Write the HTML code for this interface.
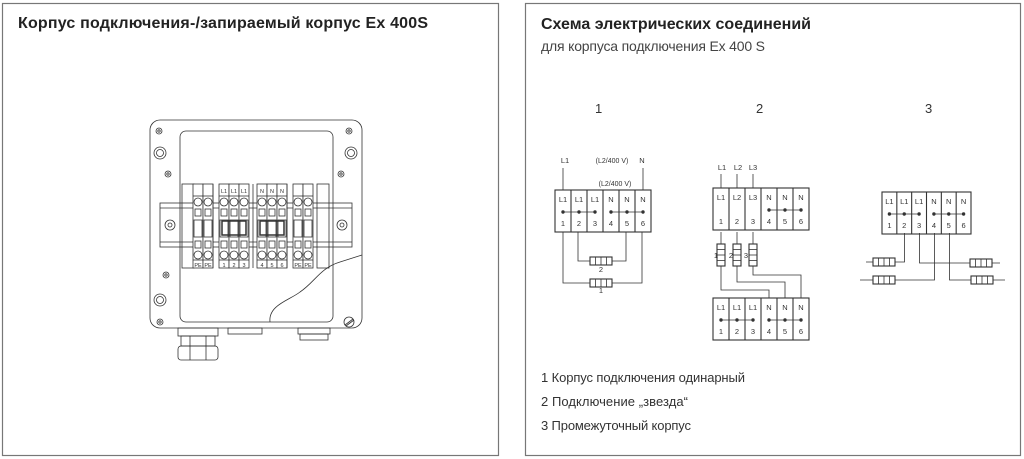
<!DOCTYPE html>
<html><head><meta charset="utf-8"><style>
html,body{margin:0;padding:0;background:#fff;width:1024px;height:459px;overflow:hidden}
svg{display:block}
.t{font-family:"Liberation Sans Narrow","Liberation Sans",sans-serif}
</style></head><body>
<svg id="s" width="1024" height="459" viewBox="0 0 1024 459" xmlns="http://www.w3.org/2000/svg">
<rect x="2.5" y="3.5" width="496" height="452" fill="none" stroke="#777" stroke-width="1.2"/>
<rect x="525.5" y="3.5" width="495" height="452" fill="none" stroke="#777" stroke-width="1.2"/>
<text class="t" x="18" y="28" font-size="16" font-weight="bold" fill="#222" textLength="410">Корпус подключения-/запираемый корпус Ex 400S</text>
<text class="t" x="541" y="29" font-size="16" font-weight="bold" fill="#222" textLength="270">Схема электрических соединений</text>
<text class="t" x="541" y="51" font-size="14" fill="#444" textLength="224">для корпуса подключения Ex 400 S</text>
<g class="t" font-size="13" fill="#333">
<text x="595" y="113">1</text><text x="756" y="113">2</text><text x="925" y="113">3</text>
<text x="541" y="382" textLength="204">1 Корпус подключения одинарный</text>
<text x="541" y="406" textLength="147">2 Подключение „звезда“</text>
<text x="541" y="430" textLength="150">3 Промежуточный корпус</text>
</g>
<g id="g" fill="none" stroke="#333" stroke-width="0.8"></g>
</svg>
<script>
(function(){
var o='';
function L(a,b,c,d,w){o+='<line x1="'+a+'" y1="'+b+'" x2="'+c+'" y2="'+d+'"'+(w?' stroke-width="'+w+'"':'')+'/>';}
function R(x,y,w,h,ex){o+='<rect x="'+x+'" y="'+y+'" width="'+w+'" height="'+h+'" '+(ex||'')+'/>';}
function C(x,y,r,ex){o+='<circle cx="'+x+'" cy="'+y+'" r="'+r+'" '+(ex||'')+'/>';}
function T(x,y,s,fs){o+='<text x="'+x+'" y="'+y+'" font-size="'+(fs||8)+'" fill="#333" stroke="none" font-family="Liberation Sans Narrow,Liberation Sans,sans-serif" text-anchor="middle">'+s+'</text>';}
R(150,120,212,208,'rx="10"');
R(180,131,153,191,'rx="6"');
R(160,203,192,44);
L(160,208,352,208);L(160,242,352,242);
[[159,131],[349,131],[168,174],[341,174],[166,275],[160,322]].forEach(function(p){C(p[0],p[1],3);C(p[0],p[1],1.2);});
[[160,153],[351,153],[160,300]].forEach(function(p){C(p[0],p[1],6);C(p[0],p[1],3.5);});
C(170,225,5);C(342,225,5);C(170,225,2);C(342,225,2);
C(349,322,5);L(345,325,353,319);L(346,326,354,320);
o+='<path d="M270,322 C268,305 290,300 300,292 C315,282 320,268 340,262 L362,255"/>';
R(182,184,12,84);R(317,184,12,84);
var xs=[193,203,219,229,239,257,267,277,293,303];
var tl=['','','L1','L1','L1','N','N','N','',''];var bl=['PE','PE','1','2','3','4','5','6','PE','PE'];
xs.forEach(function(x,i){R(x,184,10,84,'fill="#fff"');L(x,196,x+10,196);C(x+5,202,4);R(x+2,209,6,7);R(x+1,220,8,17);R(x+2,241,6,7);C(x+5,255,4);L(x,260,x+10,260);
if(tl[i])T(x+5,193,tl[i],5.5);T(x+5,267,bl[i],5.5);});
R(222,221,24,14,'stroke-width="1.5"');R(260,221,24,14,'stroke-width="1.5"');
L(213,184,213,268);L(253,184,253,268);L(287,184,287,268);
R(228,328,34,6);R(298,328,32,6);R(300,334,28,6);
R(178,328,40,8);R(181,336,34,10);R(178,346,40,14,'rx="3"');L(190,336,190,360);L(206,336,206,360);
function box(x,y,w,labs,dots){var cw=w/6;R(x,y,w,42,'stroke-width="1.1"');
for(var i=1;i<6;i++){L(x+i*cw,y,x+i*cw,y+42,1.1);}
for(var i=0;i<6;i++){T(x+cw*i+cw/2,y+12,labs[i],7.5);T(x+cw*i+cw/2,y+36,i+1,7.5);}
dots.forEach(function(d){var a=x+cw*d[0]+cw/2,b=x+cw*d[1]+cw/2;L(a,y+22,b,y+22);for(var k=d[0];k<=d[1];k++)C(x+cw*k+cw/2,y+22,1.3,'fill="#333"');});}
function resH(x,y){R(x,y-4,22,8,'fill="#fff" stroke-width="1.1"');for(var i=1;i<4;i++)L(x+i*5.5,y-4,x+i*5.5,y+4);}
function resV(x,y){R(x-4,y,8,22,'fill="#fff" stroke-width="1.1"');for(var i=1;i<4;i++)L(x-4,y+i*5.5,x+4,y+i*5.5);}
var LLN=['L1','L1','L1','N','N','N'];
box(555,190,96,LLN,[[0,2],[3,5]]);
L(563,168,563,190);L(643,168,643,190);T(565,163,'L1',7.5);T(642,163,'N',7.5);T(612,163,'(L2/400 V)',7);T(615,186,'(L2/400 V)',7);
o+='<polyline points="563,232 563,283 642,283 642,232"/>';
o+='<polyline points="578,232 578,261 626,261 626,232"/>';
resH(590,261);resH(590,283);T(601,272,'2',7.5);T(601,293,'1',7.5);
box(713,188,96,['L1','L2','L3','N','N','N'],[[3,5]]);
L(721,174,721,188);L(737,174,737,188);L(753,174,753,188);T(722,170,'L1',7.5);T(738,170,'L2',7.5);T(753,170,'L3',7.5);
o+='<polyline points="721,232 721,290 769,290 769,298"/>';
o+='<polyline points="737,232 737,282 785,282 785,298"/>';
o+='<polyline points="753,232 753,275 801,275 801,298"/>';
resV(721,244);resV(737,244);resV(753,244);T(716,258,'1',7.5);T(731,258,'2',7.5);T(746,258,'3',7.5);
box(713,298,96,LLN,[[0,2],[3,5]]);
box(882,192,89,LLN,[[0,2],[3,5]]);
o+='<polyline points="904.5,233 904.5,262 866,262"/>';
o+='<polyline points="919.5,233 919.5,263 1000,263"/>';
o+='<polyline points="934.5,233 934.5,280 860,280"/>';
o+='<polyline points="949.5,233 949.5,280 1005,280"/>';
resH(873,262);resH(873,280);resH(970,263);resH(971,280);
document.getElementById('g').innerHTML=o;
})();
</script>
</body></html>
